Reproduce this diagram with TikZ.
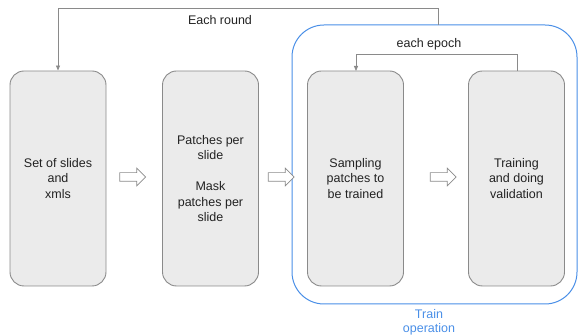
\documentclass[tikz,border=0pt]{standalone}
\usepackage{fontspec}
\setmainfont{Liberation Sans}
\usetikzlibrary{arrows.meta,shapes.arrows}
\definecolor{boxfill}{HTML}{EBEBEB}
\definecolor{boxline}{HTML}{8A8A8A}
\definecolor{blueline}{HTML}{4A8FE7}
\definecolor{txt}{HTML}{222222}
\tikzset{
  stagebox/.style={draw=boxline, fill=boxfill, line width=0.9pt, rounded corners=14pt,
    minimum width=96pt, minimum height=215pt, inner sep=0pt, text=txt,
    font=\fontsize{12.5}{15.5}\selectfont, align=center},
  hollow/.style={single arrow, draw=boxline, fill=white, line width=0.7pt,
    inner sep=4pt, single arrow head extend=4.5pt, minimum height=26pt,
    single arrow tip angle=90},
  loop/.style={draw=boxline, line width=0.8pt, -{Triangle[length=5pt,width=4pt]}},
  lbl/.style={text=txt, font=\fontsize{12.5}{15.5}\selectfont},
}
\begin{document}
\begin{tikzpicture}[x=1pt,y=-1pt]
\useasboundingbox (0,0) rectangle (581,336);
\node[draw=blueline, line width=1pt, rounded corners=32pt, minimum width=285pt, minimum height=279pt] (train) at (434.5,164.5) {};
\node[stagebox] (b1) at (58,178.5) {Set of slides\\and\\xmls};
\node[stagebox] (b2) at (210.5,178.5) {Patches per\\slide\\[15.5pt]Mask\\patches per\\slide};
\node[stagebox] (b3) at (355.5,178.5) {Sampling\\patches to\\be trained};
\node[stagebox] (b4) at (516.5,178.5) {Training\\and doing\\validation};
\node[hollow] (a1) at (130.5,177) {};
\node[hollow] (a2) at (279,177) {};
\node[hollow] (a3) at (441,177) {};
\coordinate (r0) at (438,25);
\draw[loop] (r0) |- (58,8) -- (b1.north);
\node[lbl] (each) at (220,20) {Each round};
\coordinate (e0) at (517,71);
\draw[loop] (e0) |- (356,54) -- (356,71);
\node[lbl] (epoch) at (429,44) {each epoch};
\node[text=blueline, font=\fontsize{12.5}{14}\selectfont, align=center] (tl) at (429,322) {Train\\operation};
\end{tikzpicture}
\end{document}
